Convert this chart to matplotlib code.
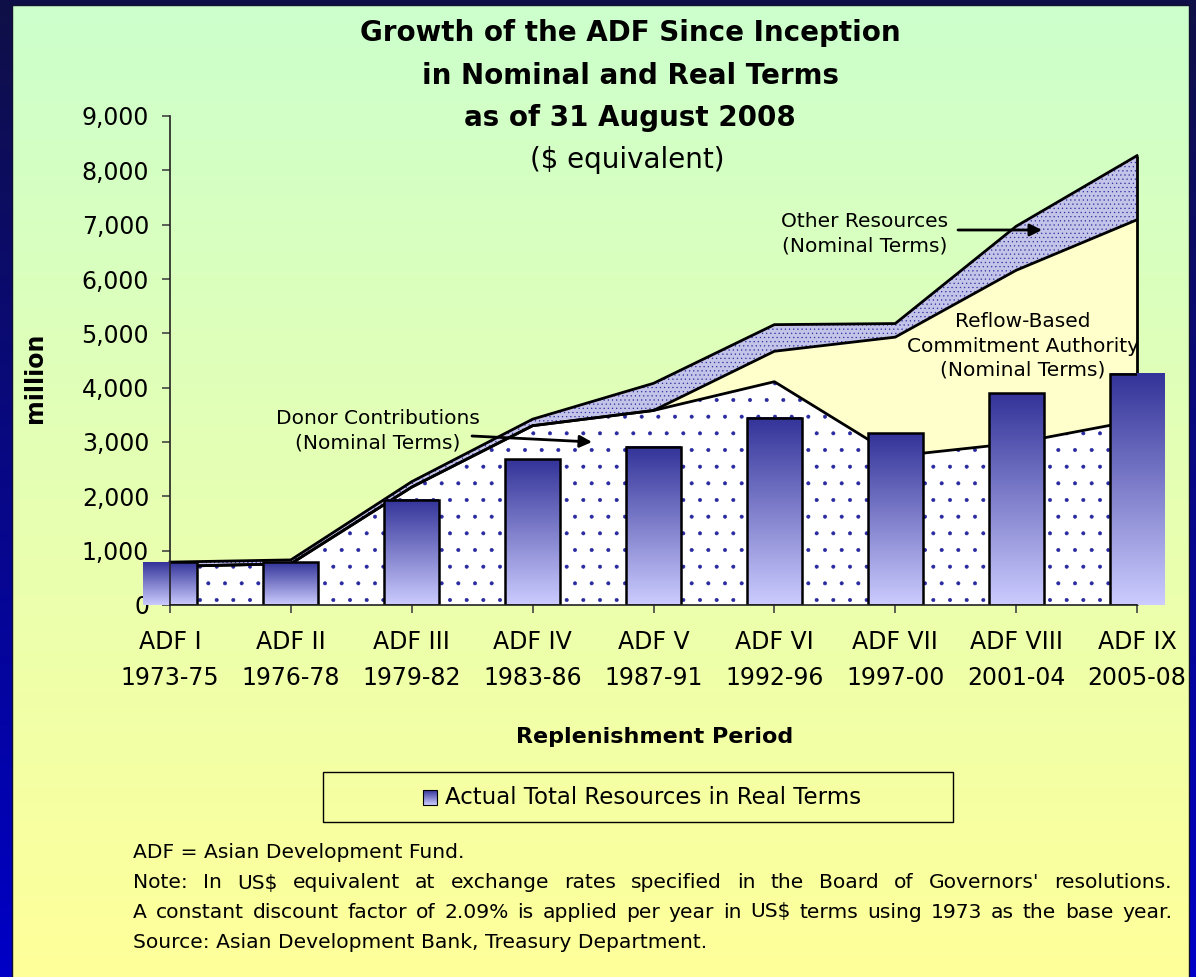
import numpy as np
import matplotlib
matplotlib.use('Agg')
import matplotlib.pyplot as plt
from matplotlib.patches import Rectangle
from matplotlib.ticker import FuncFormatter

# values, $ million
periods = ['ADF I', 'ADF II', 'ADF III', 'ADF IV', 'ADF V', 'ADF VI', 'ADF VII', 'ADF VIII', 'ADF IX']
years = ['1973-75', '1976-78', '1979-82', '1983-86', '1987-91', '1992-96', '1997-00', '2001-04', '2005-08']
donor = [710, 760, 2170, 3300, 3580, 4110, 2740, 2980, 3400]
reflow = [0, 0, 0, 0, 0, 560, 2190, 3180, 3690]
other = [80, 70, 100, 120, 500, 490, 250, 810, 1180]
real_total = [790, 790, 1940, 2680, 2910, 3450, 3160, 3900, 4260]

W, H = 1196, 977
plt.rcParams['hatch.linewidth'] = 0.4


def vgrad(c_top, c_bot, n=256):
    # column of colours running from top to bottom
    t = np.linspace(0, 1, n)[:, None]
    a = np.array(c_top)[None, :]
    b = np.array(c_bot)[None, :]
    return (a + (b - a) * t)[:, None, :]


fig = plt.figure(figsize=(W / 100, H / 100), dpi=100)

# background layer in pixel coordinates
bg = fig.add_axes([0, 0, 1, 1])
bg.axis('off')
bg.imshow(vgrad((0.06, 0.06, 0.28), (0.0, 0.0, 0.78)), extent=(0, W, H, 0), aspect='auto')
bg.imshow(vgrad((0.80, 1.0, 0.80), (1.0, 1.0, 0.60)), extent=(12, W - 7, H, 5), aspect='auto')
bg.add_patch(Rectangle((12, 5), W - 19, H, fill=False, edgecolor='#101030', lw=1))
bg.set_xlim(0, W)
bg.set_ylim(H, 0)

# main chart
ax = fig.add_axes([170 / W, 1 - 605 / H, (1137 - 170) / W, (605 - 116) / H])
ax.set_facecolor('none')
x = np.arange(len(periods))
base = np.array(donor)
mid = base + np.array(reflow)
top = mid + np.array(other)

ax.fill_between(x, 0, base, facecolor='white', edgecolor='#2828a0', hatch='.', lw=0, zorder=1)
ax.fill_between(x, base, mid, facecolor='#ffffcc', lw=0, zorder=1)
ax.fill_between(x, mid, top, facecolor='#c4c4e8', edgecolor='#3030a0', hatch='....', lw=0, zorder=1)
for yy in (base, mid, top):
    ax.plot(x, yy, color='black', lw=2, zorder=2, clip_on=False)
ax.vlines(x[-1], 0, top[-1], color='black', lw=2, zorder=2, clip_on=False)

# bars with a top-down gradient; the fill spills past the axes, the outline does not
bw = 0.455
grad = vgrad((0.20, 0.20, 0.60), (0.80, 0.80, 1.0))
for xi, v in zip(x, real_total):
    ax.imshow(grad, extent=(xi - bw / 2, xi + bw / 2, 0, v), aspect='auto',
              interpolation='bilinear', zorder=3, clip_on=False)
ax.bar(x, real_total, width=bw, facecolor='none', edgecolor='black', lw=1.8, zorder=4)

ax.set_xlim(0, 8)
ax.set_ylim(0, 9000)
ax.set_xticks(x, [f'{p}\n{y}' for p, y in zip(periods, years)])
ax.set_yticks(range(0, 9001, 1000))
ax.yaxis.set_major_formatter(FuncFormatter(lambda v, _: f'{int(v):,}'))
ax.tick_params(labelsize=17, length=6, width=1.2, color='#444444')
ax.tick_params(axis='y', pad=9)
ax.tick_params(axis='x', pad=12)
for lb in ax.get_xticklabels():
    lb.set_linespacing(1.65)
for s in ('top', 'right'):
    ax.spines[s].set_visible(False)
for s in ('left', 'bottom'):
    ax.spines[s].set_linewidth(1.2)
    ax.spines[s].set_color('#222222')
    ax.spines[s].set_zorder(5)

# callouts on top of the areas
px = bg.transData
ax.text(865, 234, 'Other Resources\n(Nominal Terms)', transform=px, ha='center', va='center',
        fontsize=14.5, linespacing=1.35, zorder=6)
ax.text(1023, 346, 'Reflow-Based\nCommitment Authority\n(Nominal Terms)', transform=px,
        ha='center', va='center', fontsize=14.5, linespacing=1.35, zorder=6)
ax.text(378, 431, 'Donor Contributions\n(Nominal Terms)', transform=px, ha='center', va='center',
        fontsize=14.5, linespacing=1.35, zorder=6)
arrow = dict(arrowstyle='-|>', color='black', lw=2, mutation_scale=18, shrinkA=0, shrinkB=0)
ax.annotate('', xy=(1042, 230), xytext=(958, 230), xycoords=px, textcoords=px,
            arrowprops=arrow, annotation_clip=False, zorder=6)
ax.annotate('', xy=(592, 442), xytext=(472, 436), xycoords=px, textcoords=px,
            arrowprops=arrow, annotation_clip=False, zorder=6)

# titles and axis names
bg.text(630, 33, 'Growth of the ADF Since Inception', ha='center', va='center', fontsize=20, fontweight='bold')
bg.text(630, 76, 'in Nominal and Real Terms', ha='center', va='center', fontsize=20, fontweight='bold')
bg.text(630, 118, 'as of 31 August 2008', ha='center', va='center', fontsize=20, fontweight='bold')
bg.text(627, 160, '($ equivalent)', ha='center', va='center', fontsize=20)
bg.text(35, 378, 'million', rotation=90, ha='center', va='center', fontsize=17, fontweight='bold')
bg.text(655, 737, 'Replenishment Period', ha='center', va='center', fontsize=16, fontweight='bold')

# legend
bg.add_patch(Rectangle((323, 772), 630, 50, fill=False, edgecolor='black', lw=1))
bg.imshow(vgrad((0.20, 0.20, 0.60), (0.80, 0.80, 1.0)), extent=(423, 437, 805, 790), aspect='auto')
bg.add_patch(Rectangle((423, 790), 14, 15, fill=False, edgecolor='black', lw=0.8))
bg.text(445, 797, 'Actual Total Resources in Real Terms', ha='left', va='center', fontsize=16.5)
bg.set_xlim(0, W)
bg.set_ylim(H, 0)

# footnotes
note_size = 14.6
renderer = fig.canvas.get_renderer()


def justified(line, x0, x1, y):
    words = line.split()
    arts = [bg.text(0, y, w, ha='left', va='center', fontsize=note_size) for w in words]
    widths = [a.get_window_extent(renderer).width for a in arts]
    gap = (x1 - x0 - sum(widths)) / (len(words) - 1)
    xx = x0
    for a, wd in zip(arts, widths):
        a.set_x(xx)
        xx += wd + gap


bg.text(133, 853, 'ADF = Asian Development Fund.', ha='left', va='center', fontsize=note_size)
justified("Note: In US$ equivalent at exchange rates specified in the Board of Governors' resolutions.",
          133, 1172, 883)
justified('A constant discount factor of 2.09% is applied per year in US$ terms using 1973 as the base year.',
          133, 1172, 912)
bg.text(133, 942, 'Source: Asian Development Bank, Treasury Department.', ha='left', va='center',
        fontsize=note_size)

fig.savefig('out.png', dpi=100)
